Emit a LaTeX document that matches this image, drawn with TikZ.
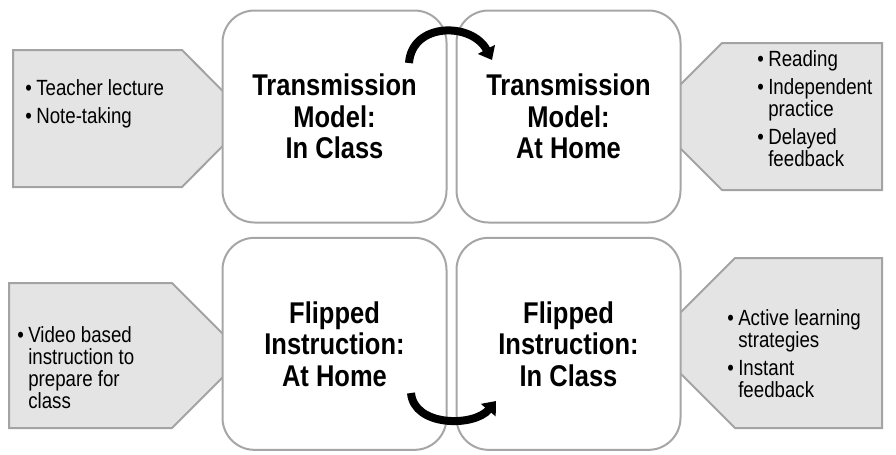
\documentclass[tikz,border=0pt]{standalone}
\usepackage{fontspec}
\setmainfont{Liberation Sans}[FakeStretch=0.85]
\usetikzlibrary{positioning,calc,arrows.meta}
\definecolor{boxline}{HTML}{A6A6A6}
\definecolor{tabfill}{HTML}{E4E4E4}
\definecolor{tabline}{HTML}{A3A3A3}
\newcommand{\bul}{\makebox[8.25pt][l]{•}}
\newcommand{\hang}{\hspace*{8.25pt}}
\tikzset{
  phase/.style={draw=boxline, line width=1.5pt, fill=white, rounded corners=24pt,
    minimum width=168pt, minimum height=159pt, align=center, inner sep=0pt,
    font=\fontsize{22.5pt}{23.6pt}\selectfont\bfseries},
  tab/.style={draw=tabline, line width=1.5pt, fill=tabfill},
  notes/.style={anchor=north west, align=left, inner sep=0pt,
    font=\fontsize{16.5pt}{16.5pt}\selectfont},
  turn/.style={line width=6pt, -{Triangle[length=9pt,width=14pt]}}
}

\begin{document}
\begin{tikzpicture}[x=0.75pt,y=-0.75pt]
  \useasboundingbox (0,0) rectangle (896,454);
  % grey tabs behind the boxes
  \draw[tab] (13,50) -- (182,50) -- (250,118.5) -- (182,187) -- (13,187) -- cycle;
  \draw[tab] (882,43) -- (722,43) -- (648.5,116.5) -- (722,190) -- (882,190) -- cycle;
  \draw[tab] (9,283) -- (172,283) -- (244.5,355.5) -- (172,428) -- (9,428) -- cycle;
  \draw[tab] (882,258) -- (735,258) -- (650,343) -- (735,428) -- (882,428) -- cycle;
  % the four boxes
  \node[phase] (tl) at (334.5,116.5) {Transmission\\Model:\\In Class};
  \node[phase, right=6pt of tl] (tr) {Transmission\\Model:\\At Home};
  \node[phase, below=10pt of tl] (bl) {Flipped\\Instruction:\\At Home};
  \node[phase, right=6pt of bl] (br) {Flipped\\Instruction:\\In Class};
  % notes
  \node[notes] (tlnote) at (25,79) {\bul Teacher lecture\\[4.5pt]\bul Note-taking};
  \node[notes] (trnote) at (757,50) {\bul Reading\\[4.5pt]\bul Independent\\\hang practice\\[4.5pt]\bul Delayed\\\hang feedback};
  \node[notes] (blnote) at (17,326) {\bul Video based\\\hang instruction to\\\hang prepare for\\\hang class};
  \node[notes] (brnote) at (727,309) {\bul Active learning\\\hang strategies\\[4.5pt]\bul Instant\\\hang feedback};
  % curved arrows
  \coordinate (topfrom) at (409,63);
  \coordinate (topto) at (492,60);
  \coordinate (botfrom) at (411,393);
  \coordinate (botto) at (496,401);
  \draw[turn] (topfrom) .. controls (412,22) and (472,22) .. (topto);
  \draw[turn] (botfrom) .. controls (414,427) and (474,427) .. (botto);
\end{tikzpicture}
\end{document}
